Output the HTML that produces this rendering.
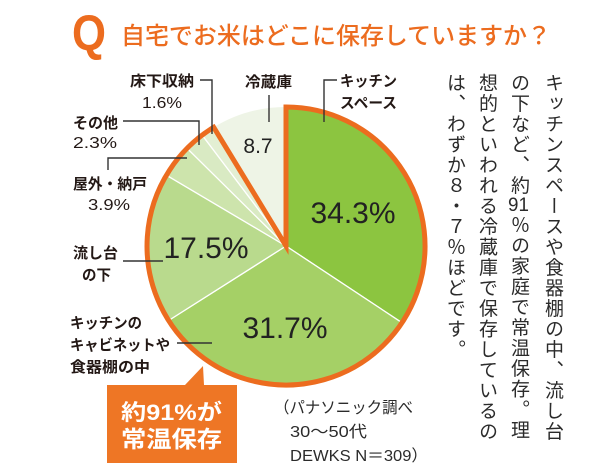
<!DOCTYPE html>
<html><head><meta charset="utf-8">
<style>
html,body{margin:0;padding:0;background:#fff;}
#wrap{position:relative;width:615px;height:476px;overflow:hidden;background:#fff;}
svg{position:absolute;left:0;top:0;}
.vcol{position:absolute;top:73px;writing-mode:vertical-rl;font-family:"Liberation Sans","Noto Sans CJK JP",sans-serif;font-size:19px;line-height:32px;letter-spacing:1.5px;color:#2b2b2b;white-space:nowrap;height:400px;width:32px;}
.tcu{text-combine-upright:all;}
</style></head>
<body><div id="wrap">
<svg width="615" height="476" viewBox="0 0 615 476" xmlns="http://www.w3.org/2000/svg">
  <!-- title -->
  <text x="72" y="50" font-family="Liberation Sans, sans-serif" font-weight="bold" font-size="50" fill="#ec6c1f" textLength="34" lengthAdjust="spacingAndGlyphs">Q</text>
  <text x="121" y="44" font-family="Liberation Sans, Noto Sans CJK JP, sans-serif" font-weight="500" font-size="24" fill="#ec6c1f" textLength="430" lengthAdjust="spacingAndGlyphs">自宅でお米はどこに保存していますか？</text>

  <!-- pie slices -->
  <g stroke="#ffffff" stroke-width="1.3">
    <path d="M286,246 L286,107 A139,139 0 0 1 401.9,322.7 Z" fill="#8cc540"/>
    <path d="M286,246 L401.9,322.7 A139,139 0 0 1 168.6,320.5 Z" fill="#a5d066"/>
    <path d="M286,246 L168.6,320.5 A139,139 0 0 1 166.4,175.2 Z" fill="#b9da8d"/>
    <path d="M286,246 L166.4,175.2 A139,139 0 0 1 187.1,148.3 Z" fill="#cde4ac"/>
    <path d="M286,246 L187.1,148.3 A139,139 0 0 1 202.2,135.1 Z" fill="#d9eac3"/>
    <path d="M286,246 L202.2,135.1 A139,139 0 0 1 213.7,127.3 Z" fill="#e3efd3"/>
    <path d="M286,246 L213.7,127.3 A139,139 0 0 1 286,107 Z" fill="#eef4e6" stroke="none"/>
  </g>
  <!-- orange outline around 91% -->
  <path d="M286,246 L286,107 A139,139 0 1 1 213.7,127.3 Z" fill="none" stroke="#ec6c1f" stroke-width="5" stroke-linejoin="miter"/>

  <!-- big values -->
  <g font-family="Liberation Sans, sans-serif" fill="#222">
    <text x="353" y="223" font-size="30" text-anchor="middle">34.3%</text>
    <text x="285" y="338" font-size="30" text-anchor="middle">31.7%</text>
    <text x="206" y="258" font-size="30" text-anchor="middle">17.5%</text>
    <text x="258" y="153" font-size="21" text-anchor="middle">8.7</text>
  </g>

  <!-- leader lines -->
  <g stroke="#333" stroke-width="1.4" fill="none">
    <path d="M200,80 H212 V134"/>
    <path d="M269,95 V122"/>
    <path d="M337,80 H324 V122"/>
    <path d="M123,121 H199 V145"/>
    <path d="M187,158 H108 V170"/>
    <path d="M123,261 H163"/>
    <path d="M177,343 H212"/>
  </g>

  <!-- labels -->
  <g font-family="Liberation Sans, Noto Sans CJK JP, sans-serif" font-weight="bold" font-size="15" fill="#231815">
    <text x="130" y="86" textLength="64" lengthAdjust="spacingAndGlyphs">床下収納</text>
    <text x="245" y="87" textLength="47" lengthAdjust="spacingAndGlyphs">冷蔵庫</text>
    <text x="340" y="86" textLength="57" lengthAdjust="spacingAndGlyphs">キッチン</text>
    <text x="340" y="108" textLength="57" lengthAdjust="spacingAndGlyphs">スペース</text>
    <text x="73" y="128" textLength="45" lengthAdjust="spacingAndGlyphs">その他</text>
    <text x="73" y="189" textLength="74" lengthAdjust="spacingAndGlyphs">屋外・納戸</text>
    <text x="73" y="258" textLength="45" lengthAdjust="spacingAndGlyphs">流し台</text>
    <text x="82" y="280" textLength="29" lengthAdjust="spacingAndGlyphs">の下</text>
    <text x="70" y="328" textLength="72" lengthAdjust="spacingAndGlyphs">キッチンの</text>
    <text x="70" y="350" textLength="100" lengthAdjust="spacingAndGlyphs">キャビネットや</text>
    <text x="70" y="372" textLength="80" lengthAdjust="spacingAndGlyphs">食器棚の中</text>
  </g>
  <g font-family="Liberation Sans, sans-serif" font-size="16" fill="#231815">
    <text x="142" y="108" textLength="40" lengthAdjust="spacingAndGlyphs">1.6%</text>
    <text x="73" y="148" textLength="44" lengthAdjust="spacingAndGlyphs">2.3%</text>
    <text x="88" y="210" textLength="42" lengthAdjust="spacingAndGlyphs">3.9%</text>
  </g>

  <!-- callout -->
  <path d="M107,385 H185 L203,366 L204,385 H237 V463 H107 Z" fill="#ee7625"/>
  <g font-family="Liberation Sans, Noto Sans CJK JP, sans-serif" font-weight="bold" fill="#ffffff">
    <text x="121" y="420" font-size="22" textLength="101" lengthAdjust="spacingAndGlyphs">約91%が</text>
    <text x="121" y="447" font-size="23" textLength="101" lengthAdjust="spacingAndGlyphs">常温保存</text>
  </g>

  <!-- source -->
  <g font-family="Liberation Sans, Noto Sans CJK JP, sans-serif" font-size="16" fill="#2b2b2b">
    <text x="274" y="413" textLength="139" lengthAdjust="spacingAndGlyphs">（パナソニック調べ</text>
    <text x="290" y="437" textLength="77" lengthAdjust="spacingAndGlyphs">30〜50代</text>
    <text x="290" y="461" textLength="138" lengthAdjust="spacingAndGlyphs">DEWKS N＝309）</text>
  </g>
</svg>

<div class="vcol" style="left:536px;">キッチンスペースや食器棚の中、流し台</div>
<div class="vcol" style="left:502px;">の下など、約<span class="tcu">91</span>％の家庭で常温保存。理</div>
<div class="vcol" style="left:470px;">想的といわれる冷蔵庫で保存しているの</div>
<div class="vcol" style="left:438px;">は、わずか８・７％ほどです。</div>
</div></body></html>
